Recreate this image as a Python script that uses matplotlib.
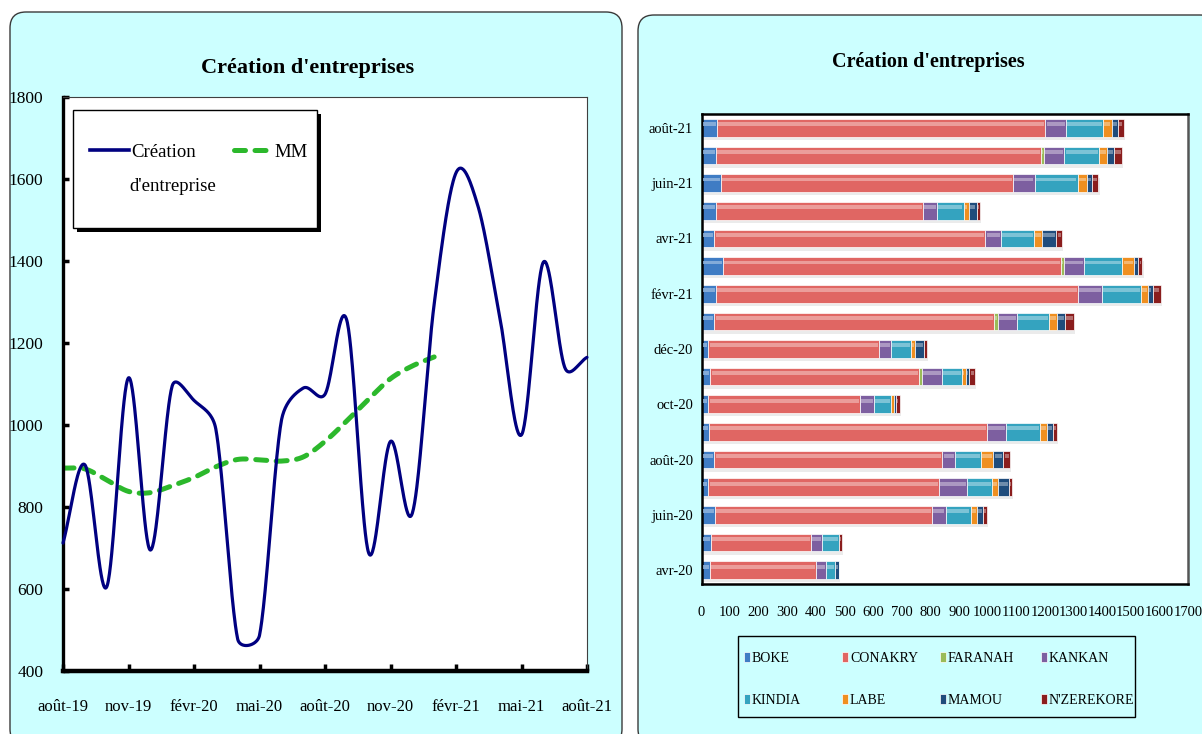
import numpy as np
import matplotlib
matplotlib.use('Agg')
import matplotlib.pyplot as plt
from matplotlib.patches import FancyBboxPatch, Rectangle
from matplotlib.transforms import IdentityTransform
from matplotlib.lines import Line2D
from matplotlib.legend import Legend
import matplotlib.colors as mcolors

plt.rcParams['font.family'] = ['Liberation Serif', 'DejaVu Serif']

# ---------------- data: left chart ----------------
line_months = ['août-19', 'sept-19', 'oct-19', 'nov-19', 'déc-19', 'janv-20', 'févr-20',
               'mars-20', 'avr-20', 'mai-20', 'juin-20', 'juil-20', 'août-20', 'sept-20',
               'oct-20', 'nov-20', 'déc-20', 'janv-21', 'févr-21', 'mars-21', 'avr-21',
               'mai-21', 'juin-21', 'juil-21', 'août-21']
creation = [712, 903, 605, 1115, 695, 1095, 1060, 990, 478, 487, 1010, 1090, 1075, 1255,
            688, 960, 785, 1295, 1615, 1535, 1265, 976, 1397, 1138, 1165]
mm = [895, 893, 866, 838, 835, 852, 872, 898, 916, 915, 912, 922, 960, 1010, 1063,
      1113, 1144, 1166]
x_ticklabels = ['août-19', 'nov-19', 'févr-20', 'mai-20', 'août-20', 'nov-20',
                'févr-21', 'mai-21', 'août-21']

# ---------------- data: right chart ----------------
bar_months = ['avr-20', 'mai-20', 'juin-20', 'juil-20', 'août-20', 'sept-20', 'oct-20',
              'nov-20', 'déc-20', 'janv-21', 'févr-21', 'mars-21', 'avr-21', 'mai-21',
              'juin-21', 'juil-21', 'août-21']
regions = ['BOKE', 'CONAKRY', 'FARANAH', 'KANKAN', 'KINDIA', 'LABE', 'MAMOU', "N'ZEREKORE"]
boke = [30, 33, 47, 24, 45, 26, 24, 31, 24, 45, 50, 74, 45, 50, 67, 50, 55]
conakry = [370, 349, 759, 807, 797, 972, 530, 729, 597, 977, 1266, 1182, 947, 725, 1022, 1137, 1147]
faranah = [0, 0, 0, 0, 0, 0, 0, 9, 0, 15, 0, 10, 0, 0, 0, 10, 0]
kankan = [35, 40, 47, 96, 45, 65, 49, 72, 42, 65, 84, 70, 55, 49, 75, 71, 72]
kindia = [31, 59, 87, 87, 90, 120, 58, 70, 70, 113, 136, 135, 116, 92, 150, 121, 130]
labe = [0, 0, 23, 23, 43, 24, 10, 12, 12, 28, 23, 41, 28, 17, 33, 29, 29]
mamou = [15, 0, 21, 37, 35, 21, 9, 13, 34, 28, 17, 15, 49, 28, 17, 24, 23]
nzerekore = [0, 9, 13, 10, 23, 13, 12, 19, 8, 30, 28, 14, 20, 13, 23, 27, 19]
region_colors = ['#3f7cc4', '#e06663', '#9bbb59', '#7d5fa0', '#34a3bf', '#ef8f20',
                 '#1f4c7c', '#8a1d1d']

W, H = 1202, 734
fig = plt.figure(figsize=(W / 100, H / 100), dpi=100)
fig.patch.set_facecolor('white')


def fx(px):
    return px / W


def fy(py):
    return 1 - py / H


# panels
for (x0, y0, x1) in [(10, 12, 622), (638, 15, 1216)]:
    p = FancyBboxPatch((x0, H - 745), x1 - x0, 745 - y0,
                       boxstyle='round,pad=0,rounding_size=16',
                       transform=IdentityTransform(), facecolor='#ccffff',
                       edgecolor='#3a3a3a', linewidth=1.0, zorder=0)
    fig.add_artist(p)


def excel_smooth(ax, x, y, n=40):
    P = ax.transData.transform(np.column_stack([x, y]))
    N = len(P)
    out = [P[0]]
    t = np.linspace(0, 1, n)[1:, None]
    for i in range(N - 1):
        p1, p2 = P[i], P[i + 1]
        p0 = P[i - 1] if i > 0 else P[i]
        p3 = P[i + 2] if i + 2 < N else P[i + 1]
        d12 = np.linalg.norm(p2 - p1)
        d02 = np.linalg.norm(p2 - p0)
        d13 = np.linalg.norm(p3 - p1)
        fa = 1 / 3 if i == 0 else min(1 / 6, d12 / (2 * d02))
        fb = 1 / 3 if i + 2 >= N else min(1 / 6, d12 / (2 * d13))
        b1 = p1 + (p2 - p0) * fa
        b2 = p2 - (p3 - p1) * fb
        seg = ((1 - t) ** 3) * p1 + 3 * ((1 - t) ** 2) * t * b1 + 3 * (1 - t) * t ** 2 * b2 + t ** 3 * p2
        out.extend(seg)
    out = np.array(out)
    d = ax.transData.inverted().transform(out)
    return d[:, 0], d[:, 1]


# ---------------- left chart ----------------
ax1 = fig.add_axes([fx(63), fy(671), (587 - 63) / W, (671 - 97) / H])
ax1.set_xlim(0, 24)
ax1.set_ylim(400, 1800)
ax1.set_facecolor('white')

xs, ys = excel_smooth(ax1, np.arange(len(creation)), creation)
ax1.plot(xs, ys, color='#000080', lw=2.3, solid_capstyle='round', zorder=3,
         clip_on=False)
xm, ymm = excel_smooth(ax1, np.arange(len(mm)), mm)
ax1.plot(xm, ymm, color='#2cb82c', lw=3.6, dashes=(2.2, 1.9),
         dash_capstyle='round', zorder=2)

ax1.set_xticks(np.arange(0, 25, 3))
ax1.set_xticklabels(x_ticklabels, fontsize=12)
ax1.set_yticks(np.arange(400, 1801, 200))
ax1.set_yticklabels([str(v) for v in range(400, 1801, 200)], fontsize=12.5)
ax1.tick_params(axis='y', direction='in', length=4, width=2.5, pad=14)
ax1.tick_params(axis='x', direction='in', length=5, width=2.5, pad=20)
for s in ['top', 'right']:
    ax1.spines[s].set_linewidth(0.8)
    ax1.spines[s].set_color('#404040')
ax1.spines['left'].set_linewidth(2.4)
ax1.spines['bottom'].set_linewidth(3.2)

# legend box with shadow (pixel coordinates)
ax1.add_patch(Rectangle((77, H - 232), 244, 118, transform=IdentityTransform(),
                        facecolor='black', edgecolor='none', zorder=4, clip_on=False))
ax1.add_patch(Rectangle((73, H - 228), 244, 118, transform=IdentityTransform(),
                        facecolor='white', edgecolor='black', linewidth=1.0,
                        zorder=4.5, clip_on=False))
handles = [Line2D([], [], color='#000080', lw=2.6),
           Line2D([], [], color='#2cb82c', lw=3.6, dashes=(2.2, 1.9),
                  dash_capstyle='round')]
leg1 = ax1.legend(handles, ['Création', 'MM'], ncol=2, loc='center left',
                  bbox_to_anchor=(fx(90), fy(152)), bbox_transform=fig.transFigure,
                  fontsize=13.5, frameon=False, borderpad=0, borderaxespad=0,
                  handlelength=2.1, handletextpad=0.1, columnspacing=2.0)
leg1.set_zorder(6)
ax1.text(fx(129.5), fy(186), "d'entreprise", transform=fig.transFigure,
         fontsize=13.5, ha='left', va='center', zorder=6)

fig.text(fx(308), fy(68), "Création d'entreprises", ha='center', va='center',
         fontsize=16, fontweight='bold')

# ---------------- right chart ----------------
ax2 = fig.add_axes([fx(701.5), fy(584), 486.5 / W, 470 / H])
ax2.set_xlim(0, 1700)
ax2.set_ylim(-0.5, 16.5)
ax2.set_facecolor('white')

series = [boke, conakry, faranah, kankan, kindia, labe, mamou, nzerekore]
ypos = np.arange(len(bar_months))
left = np.zeros(len(bar_months))
bh = 0.64
bar_handles = []
for name, vals, col in zip(regions, series, region_colors):
    vals = np.array(vals, dtype=float)
    ax2.barh(ypos - 0.12, vals, left=left + 4, height=bh, color='#000000',
             alpha=0.08, linewidth=0, zorder=1)
    bc = ax2.barh(ypos, vals, left=left, height=bh, color=col, edgecolor='white',
                  linewidth=0.5, label=name, zorder=2)
    bar_handles.append(bc)
    light = np.array(mcolors.to_rgb(col)) * 0.55 + 0.45
    ax2.barh(ypos + 0.13, np.maximum(vals - 8, 0), left=left + 4, height=0.14,
             color=light, linewidth=0, zorder=3, alpha=0.8)
    left = left + vals

ax2.set_yticks(ypos[::2])
ax2.set_yticklabels(bar_months[::2], fontsize=10.5)
ax2.set_xticks(np.arange(0, 1701, 100))
ax2.set_xticklabels([str(v) for v in range(0, 1701, 100)], fontsize=10.5)
ax2.tick_params(axis='both', length=0)
ax2.tick_params(axis='x', pad=16)
ax2.tick_params(axis='y', pad=6)
for s in ['left', 'bottom', 'top', 'right']:
    ax2.spines[s].set_color('black')
    ax2.spines[s].set_linewidth(1.8)
ax2.spines['right'].set_color('#555555')

# legend frame + entries in a 4 x 2 grid (row-wise order as in the reference)
ax2.add_patch(Rectangle((738, H - 717), 397, 81, transform=IdentityTransform(),
                        facecolor='#ccffff', edgecolor='black', linewidth=1.0,
                        zorder=4, clip_on=False))
col_x = [744, 842, 940, 1041]
row_y = [658, 700]
for k, (name, h) in enumerate(zip(regions, bar_handles)):
    r, c = divmod(k, 4)
    lg = Legend(ax2, [h], [name], loc='center left',
                bbox_to_anchor=(fx(col_x[c]), fy(row_y[r])),
                bbox_transform=fig.transFigure, frameon=False, fontsize=10,
                borderpad=0, borderaxespad=0, handlelength=0.45,
                handleheight=0.75, handletextpad=0.12)
    lg.set_zorder(6)
    ax2.add_artist(lg)

fig.text(fx(928), fy(62), "Création d'entreprises", ha='center', va='center',
         fontsize=14.5, fontweight='bold')

fig.savefig('out.png', dpi=100)
